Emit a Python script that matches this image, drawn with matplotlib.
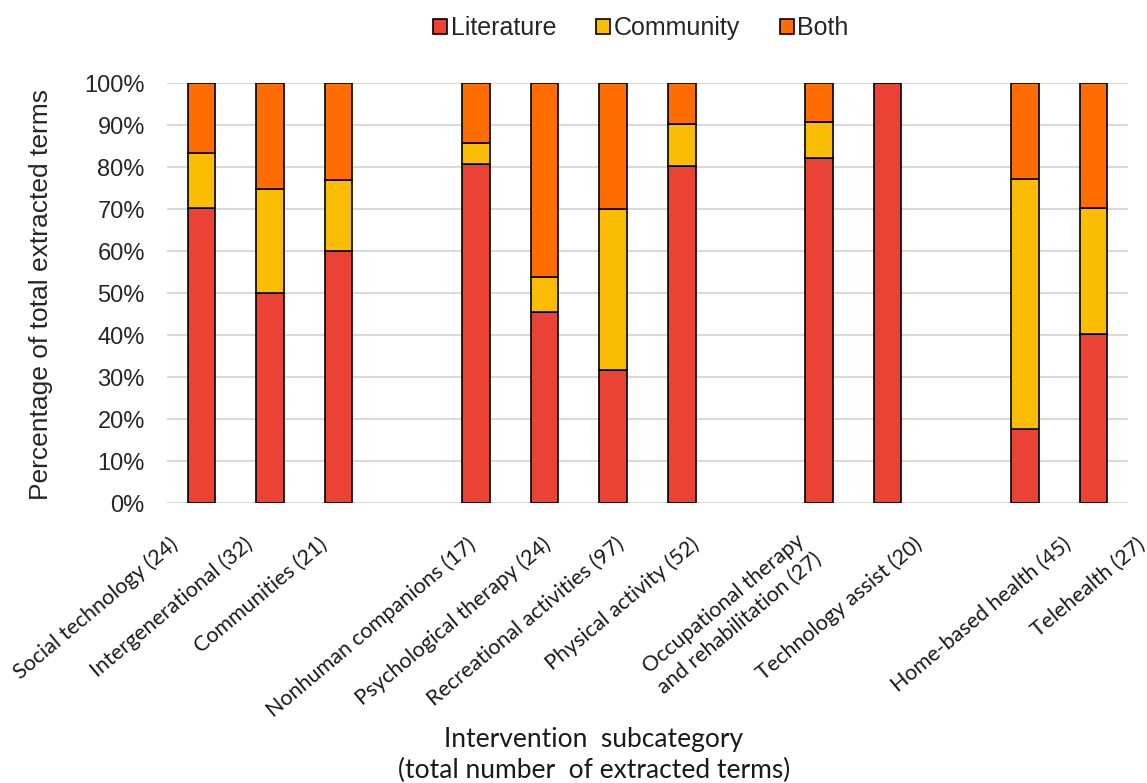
import matplotlib
matplotlib.use("Agg")
import matplotlib.pyplot as plt
from matplotlib.patches import Patch
import matplotlib.transforms as mtransforms

plt.rcParams["font.family"] = ["Liberation Sans", "DejaVu Sans"]

# Subcategories in plotting order; empty strings are spacer slots between groups
categories = [
    "Social technology (24)", "Intergenerational (32)", "Communities (21)", "",
    "Nonhuman companions (17)", "Psychological therapy (24)",
    "Recreational activities (97)", "Physical activity (52)", "",
    "Occupational therapy\nand rehabilitation (27)", "Technology assist (20)", "",
    "Home-based health (45)", "Telehealth (27)",
]

# Share of extracted terms (%) by source
literature = [70.3, 50.0, 60.0, 0, 80.8, 45.5, 31.6, 80.3, 0, 82.1, 100.0, 0, 17.7, 40.3]
community = [13.0, 24.7, 16.8, 0, 4.8, 8.3, 38.3, 10.0, 0, 8.6, 0.0, 0, 59.5, 30.0]
both = [16.7, 25.3, 23.2, 0, 14.4, 46.2, 30.1, 9.7, 0, 9.3, 0.0, 0, 22.8, 29.7]

series_names = ["Literature", "Community", "Both"]
colors = ["#EA4335", "#FBBC04", "#FF6D01"]
yticks = [0, 10, 20, 30, 40, 50, 60, 70, 80, 90, 100]

W, H = 1147, 783
fig = plt.figure(figsize=(W / 100, H / 100), dpi=100)
ax = fig.add_axes([167 / W, 1 - 503 / H, 961 / W, 420 / H])

x = list(range(len(categories)))
bottom = [0.0] * len(categories)
for name, vals, col in zip(series_names, [literature, community, both], colors):
    xs = [xi for xi, c in zip(x, categories) if c]
    vs = [v for v, c in zip(vals, categories) if c]
    bs = [b for b, c in zip(bottom, categories) if c]
    ax.bar(xs, vs, bottom=bs, width=0.4, color=col, edgecolor="black",
           linewidth=1.2, zorder=3)
    bottom = [b + v for b, v in zip(bottom, vals)]

ax.set_xlim(-0.5, len(categories) - 0.5)
ax.set_ylim(0, 100)
ax.set_yticks(yticks)
ax.set_yticklabels([f"{t}%" for t in yticks], fontsize=17,
                   fontfamily="Liberation Sans", color="#262626")
ax.set_xticks([])
ax.tick_params(axis="y", length=0, pad=16)
ax.grid(axis="y", color="#d9d9d9", linewidth=1.5, zorder=0)
for s in ax.spines.values():
    s.set_visible(False)

# Rotated category labels under the bars
trans = mtransforms.blended_transform_factory(ax.transData, ax.transAxes)
label_step = 1.084
for k, lab in enumerate(categories):
    if not lab:
        continue
    lx = -0.47 + label_step * k
    ly = -0.074
    spacing = 1.05
    if "\n" in lab:
        lx -= 0.62
        ly += 0.01
        spacing = 1.3
    ax.text(lx, ly, lab, transform=trans, rotation=40,
            rotation_mode="anchor", ha="right", va="top",
            multialignment="center", fontsize=15.5, fontfamily="Lato",
            color="#1a1a1a", linespacing=spacing)

fig.text(41 / W, 1 - 295 / H, "Percentage of total extracted terms",
         rotation=90, ha="center", va="center", fontsize=19,
         fontfamily="Liberation Sans", color="#262626")

fig.text(594 / W, 1 - 755 / H,
         "Intervention  subcategory\n(total number  of extracted terms)",
         ha="center", va="center", fontsize=19, fontfamily="Lato",
         color="#1a1a1a", linespacing=1.25)

handles = [Patch(facecolor=c, edgecolor="black", linewidth=1.2) for c in colors]
fig.legend(handles, series_names, loc="center", bbox_to_anchor=(641 / W, 1 - 28 / H),
           ncol=3, frameon=False, prop={"family": "Liberation Sans", "size": 18},
           handlelength=0.55, handleheight=0.55, handletextpad=0.15,
           columnspacing=1.6, labelcolor="#262626")

fig.savefig("out.png", dpi=100)
